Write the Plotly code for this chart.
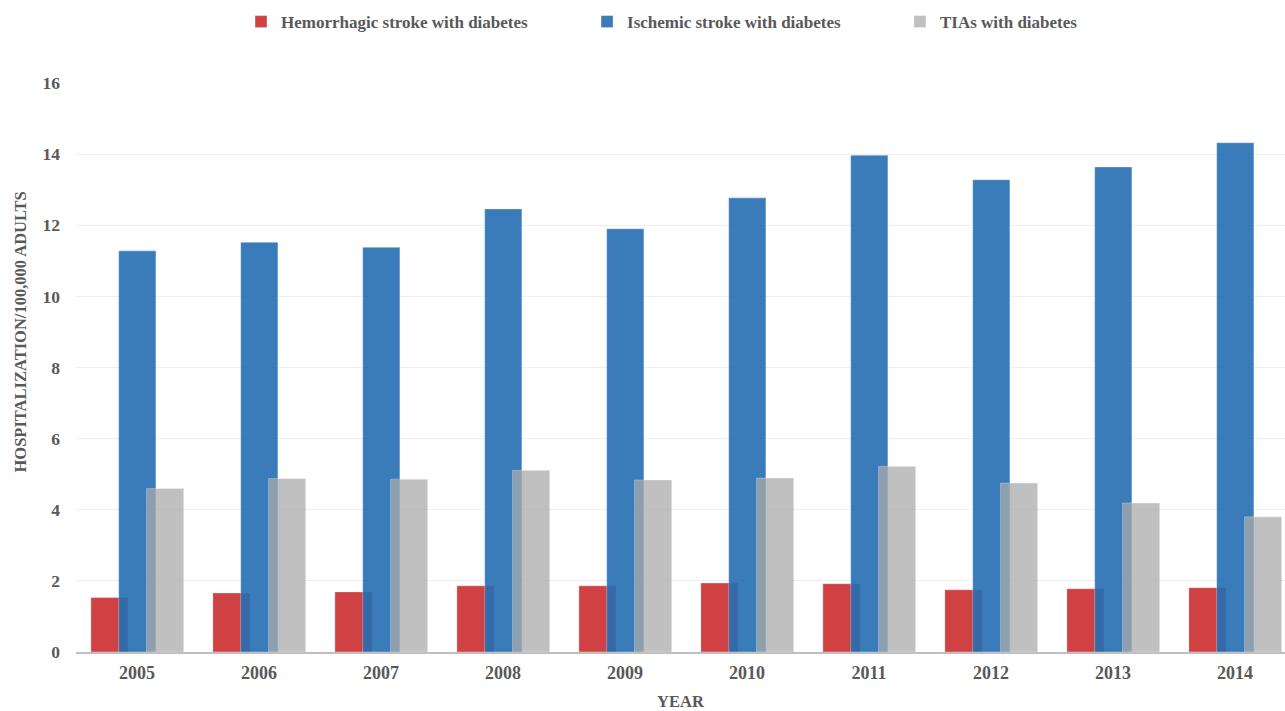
import plotly.graph_objects as go

years = ["2005", "2006", "2007", "2008", "2009", "2010", "2011", "2012", "2013", "2014"]
hemorrhagic = [1.53, 1.66, 1.69, 1.86, 1.86, 1.94, 1.92, 1.75, 1.78, 1.81]
ischemic = [11.28, 11.52, 11.38, 12.46, 11.90, 12.77, 13.97, 13.28, 13.64, 14.32]
tias = [4.60, 4.88, 4.86, 5.11, 4.84, 4.89, 5.22, 4.75, 4.19, 3.80]

series_names = ["Hemorrhagic stroke with diabetes", "Ischemic stroke with diabetes", "TIAs with diabetes"]
y_ticks = [0, 2, 4, 6, 8, 10, 12, 14, 16]
y_title = "HOSPITALIZATION/100,000 ADULTS"
x_title = "YEAR"

FONT = "Liberation Serif"
TXT = "#595959"

fig = go.Figure()
specs = [
    (hemorrhagic, "rgb(205,55,57)", -0.378, 0.95, "legend"),
    (ischemic, "rgb(37,110,178)", -0.150, 0.9, "legend2"),
    (tias, "rgb(171,171,171)", 0.078, 0.75, "legend3"),
]
for (vals, col, off, op, lg), name in zip(specs, series_names):
    fig.add_trace(go.Bar(
        x=years, y=vals, name=name, showlegend=True,
        marker=dict(color=col, line=dict(color="rgba(255,255,255,0.35)", width=1)),
        opacity=op, offset=off, width=0.305, legend=lg,
    ))

leg_common = dict(orientation="h", yref="container", y=0.969, yanchor="middle",
                  xanchor="left", font=dict(family=FONT, size=17, color=TXT, weight="bold"),
                  bgcolor="rgba(0,0,0,0)", itemwidth=30)
fig.update_layout(
    showlegend=True,
    barmode="overlay",
    width=1285, height=711,
    margin=dict(l=76, r=0, t=83, b=59),
    paper_bgcolor="white", plot_bgcolor="white",
    legend=dict(x=0.1365, **leg_common),
    legend2=dict(x=0.4227, **leg_common),
    legend3=dict(x=0.6815, **leg_common),
    xaxis=dict(
        type="category", range=[-0.5, 9.41],
        showline=True, linecolor="#bfbfbf", linewidth=2,
        showgrid=False, ticks="", ticklabelstandoff=3,
        tickfont=dict(family=FONT, size=18, color=TXT, weight="bold"),
        title=dict(text=x_title, font=dict(family=FONT, size=16.5, color=TXT, weight="bold"), standoff=18),
    ),
    yaxis=dict(
        range=[0, 16], tickvals=y_ticks,
        showgrid=True, gridcolor="#efefef", gridwidth=1,
        zeroline=False, showline=False, ticks="", ticklabelstandoff=15,
        tickfont=dict(family=FONT, size=17.5, color=TXT, weight="bold"),
    ),
    annotations=[dict(
        text=y_title, textangle=-90, showarrow=False,
        xref="paper", yref="paper", x=-0.0459, y=0.5624,
        xanchor="center", yanchor="middle",
        font=dict(family=FONT, size=16.5, color=TXT, weight="bold"),
    )],
)

fig.write_html("out.html")
